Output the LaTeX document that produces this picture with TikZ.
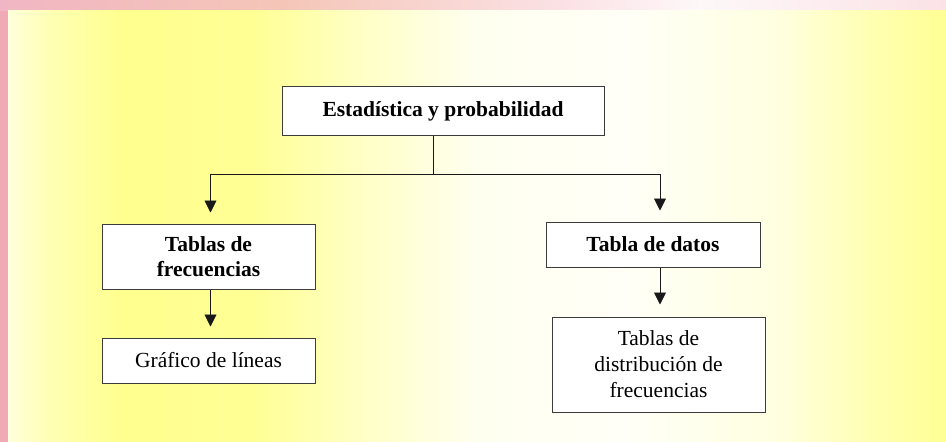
\documentclass[tikz,border=0pt]{standalone}
\usepackage{fontspec}
\setmainfont{Liberation Serif}
\usetikzlibrary{arrows.meta}
\definecolor{pinkedge}{RGB}{240,170,181}
\definecolor{pinktop}{RGB}{241,182,195}
\definecolor{peachtop}{RGB}{245,198,184}
\definecolor{palepink}{RGB}{251,226,230}
\definecolor{boxline}{RGB}{60,60,60}
\pgfdeclarehorizontalshading{panel}{100bp}{%
  color(0bp)=(yellow!14!white);
  color(25bp)=(yellow!14!white);
  color(27bp)=(yellow!28!white);
  color(31bp)=(yellow!44!white);
  color(38bp)=(yellow!42!white);
  color(44bp)=(yellow!22!white);
  color(50bp)=(yellow!6!white);
  color(58bp)=(yellow!3!white);
  color(66bp)=(yellow!12!white);
  color(71bp)=(yellow!30!white);
  color(75bp)=(yellow!42!white);
  color(100bp)=(yellow!42!white)}
\pgfdeclarehorizontalshading{topstrip}{100bp}{%
  color(0bp)=(pinktop);
  color(25bp)=(pinktop);
  color(40bp)=(peachtop);
  color(55bp)=(palepink);
  color(62bp)=(white!90!pinktop);
  color(75bp)=(palepink);
  color(100bp)=(palepink)}
\begin{document}
\begin{tikzpicture}[x=1pt,y=-1pt,
  every node/.style={font=\fontsize{21.5}{26}\selectfont},
  box/.style={draw=boxline,line width=1pt,fill=white,align=center,inner sep=0pt},
  head/.style={box,font=\fontsize{21.5}{25.5}\selectfont\bfseries},
  arr/.style={black!90,line width=0.9pt,-{Triangle[width=12pt,length=12pt]}},
  link/.style={black!90,line width=0.9pt}]
  % frame and background
  \useasboundingbox (0,0) rectangle (946,442);
  \fill[pinkedge] (0,0) rectangle (946,442);
  \shade[shading=topstrip] (0,0) rectangle (946,10);
  \shade[shading=panel] (8,10) rectangle (946,442);
  % boxes
  \node[head,minimum width=322,minimum height=49] (top) at (443,111) {Estadística y probabilidad};
  \node[head,minimum width=213,minimum height=65] (frec) at (208.5,256.5) {Tablas de\\frecuencias};
  \node[head,minimum width=214,minimum height=45] (datos) at (653,244.5) {Tabla de datos};
  \node[box,minimum width=213,minimum height=45] (graf) at (208.5,360.5) {Gráfico de líneas};
  \node[box,minimum width=213,minimum height=95] (dist) at (658.5,364.5) {Tablas de\\distribución de\\frecuencias};
  % connectors
  \coordinate (fork) at (433,174);
  \coordinate (frecin) at ([xshift=2pt]frec.north);
  \coordinate (datosin) at ([xshift=7pt]datos.north);
  \coordinate (grafin) at ([xshift=2pt]graf.north);
  \coordinate (distin) at ([xshift=1.5pt]dist.north);
  \draw[link] (top.south -| fork) -- (fork);
  \draw[arr,shorten >=11pt] (fork) -| (frecin);
  \draw[arr,shorten >=11pt] (fork) -| (datosin);
  \draw[arr,shorten >=11pt] (grafin |- frec.south) -- (grafin);
  \draw[arr,shorten >=12pt] (distin |- datos.south) -- (distin);
\end{tikzpicture}
\end{document}
